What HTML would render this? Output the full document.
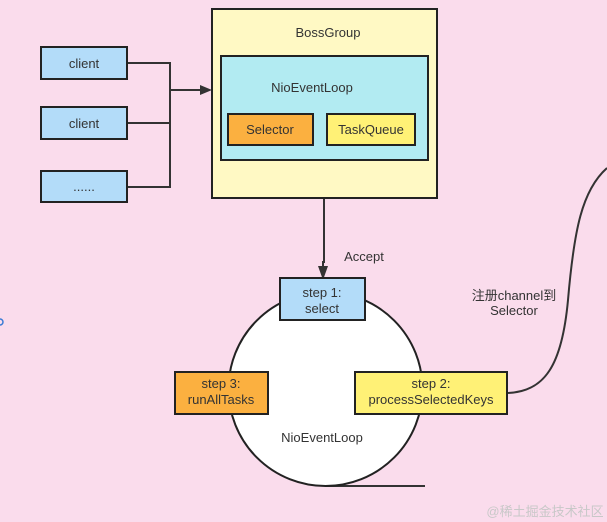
<!DOCTYPE html>
<html><head><meta charset="utf-8"><style>
body{margin:0;width:607px;height:522px;overflow:hidden;background:#fadcec;}
svg{display:block}
text{font-family:"Liberation Sans","Noto Sans CJK SC",sans-serif;font-size:13px;fill:#333;text-anchor:middle}
</style></head><body>
<svg width="607" height="522" viewBox="0 0 607 522">
<rect width="607" height="522" fill="#fadcec"/>
<g stroke="#333" stroke-width="2" fill="none">
<path d="M127,63 H170 V187 H127 M127,123 H170 M170,90 H200"/>
<path d="M324,198 V262 H323 V268"/>
<path d="M507,393 C545,392 562,365 568,300 C574,230 582,190 607,168"/>
<line x1="325" y1="486" x2="425" y2="486"/>
</g>
<polygon points="200,85 212,90 200,95" fill="#333"/>
<polygon points="318,266 323,280 328,266" fill="#333"/>
<g stroke="#222" stroke-width="2">
<rect x="212" y="9" width="225" height="189" fill="#fff9c4"/>
<rect x="221" y="56" width="207" height="104" fill="#b2ebf2"/>
<rect x="228" y="114" width="85" height="31" fill="#fbb040"/>
<rect x="327" y="114" width="88" height="31" fill="#fff176"/>
<rect x="41" y="47" width="86" height="32" fill="#b3dcf9"/>
<rect x="41" y="107" width="86" height="32" fill="#b3dcf9"/>
<rect x="41" y="171" width="86" height="31" fill="#b3dcf9"/>
<circle cx="325.5" cy="389" r="97" fill="#fff"/>
<rect x="280" y="278" width="85" height="42" fill="#b3dcf9"/>
<rect x="175" y="372" width="93" height="42" fill="#fbb040"/>
<rect x="355" y="372" width="152" height="42" fill="#fff176"/>
</g>
<text x="328" y="37">BossGroup</text>
<text x="312" y="92">NioEventLoop</text>
<text x="270" y="134">Selector</text>
<text x="371" y="134">TaskQueue</text>
<text x="84" y="68">client</text>
<text x="84" y="128">client</text>
<text x="84" y="191">......</text>
<text x="364" y="261">Accept</text>
<text x="322" y="297">step 1:</text>
<text x="322" y="313">select</text>
<text x="221" y="388">step 3:</text>
<text x="221" y="404">runAllTasks</text>
<text x="431" y="388">step 2:</text>
<text x="431" y="404">processSelectedKeys</text>
<text x="322" y="442">NioEventLoop</text>
<text x="514" y="300">注册channel到</text>
<text x="514" y="315">Selector</text>
<text x="545" y="516" style="fill:#c8c8c8;font-size:13px">@稀土掘金技术社区</text>
<circle cx="0" cy="322" r="3" fill="none" stroke="#3a7bd5" stroke-width="1.5"/>
</svg>
</body></html>
